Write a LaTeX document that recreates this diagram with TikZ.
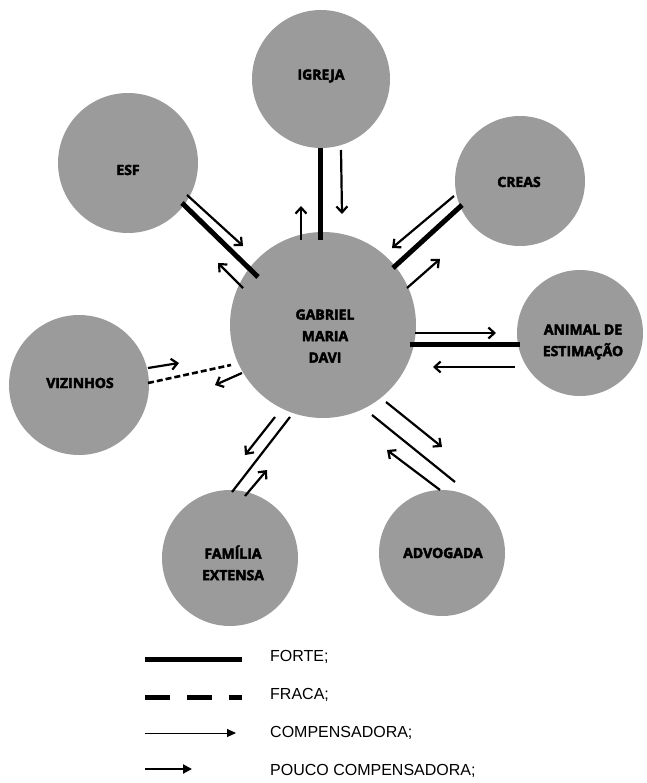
\documentclass[tikz,border=0pt]{standalone}
\usepackage{fontspec}
\setmainfont{Liberation Sans}
\newfontfamily\osb{Open Sans}[BoldFeatures={FakeBold=3}]
\usetikzlibrary{arrows.meta}
\definecolor{circgray}{RGB}{155,155,155}
\tikzset{
  actor/.style={circle, fill=circgray, draw=none, inner sep=0pt},
  lbl/.style={align=center, text=black, font=\osb\bfseries\fontsize{14}{21.5}\selectfont},
  forte/.style={line width=5pt},
  comp/.style={line width=2.2pt, -{Straight Barb[length=6pt,width=11pt,line width=2.2pt]}},
  fraca/.style={line width=2.6pt, dash pattern=on 6pt off 3pt},
  legtext/.style={anchor=west, font=\fontsize{16}{18}\selectfont, inner sep=0pt},
}
\begin{document}
\begin{tikzpicture}[x=1pt,y=-1pt]
\useasboundingbox (0,0) rectangle (646,783);
% circles
\node[actor, minimum size=138pt] (igreja) at (321,79) {};
\node[lbl] (tig) at (321,76) {IGREJA};
\node[actor, minimum size=140pt] (esf) at (128,163) {};
\node[lbl] (tesf) at (128,170) {ESF};
\node[actor, minimum size=130pt] (creas) at (520,181) {};
\node[lbl] (tcr) at (519,182) {CREAS};
\node[actor, minimum size=186pt] (c) at (323,325) {};
\node[lbl] (tc) at (325,336) {GABRIEL\\MARIA\\DAVI};
\node[actor, minimum size=126pt] (animal) at (580,333) {};
\node[lbl] (tan) at (583,342) {ANIMAL DE\\ESTIMAÇÃO};
\node[actor, minimum size=140pt] (viz) at (79,385) {};
\node[lbl] (tvz) at (80,383) {VIZINHOS};
\node[actor, minimum size=136pt] (fam) at (230,558) {};
\node[lbl] (tfm) at (233,563) {FAMÍLIA\\EXTENSA};
\node[actor, minimum size=126pt] (adv) at (442,553) {};
\node[lbl] (tad) at (443,553) {ADVOGADA};

% ESF
\coordinate (esfA) at (182,203); \coordinate (esfB) at (258,277);
\draw[forte] (esfA) -- (esfB);
\coordinate (esf1) at (187,195); \coordinate (esf2) at (243,246);
\draw[comp] (esf1) -- (esf2);
\coordinate (esf3) at (243,288); \coordinate (esf4) at (218,263);
\draw[comp] (esf3) -- (esf4);

% IGREJA
\coordinate (igA) at (320,148); \coordinate (igB) at (320,240);
\draw[forte] (igA) -- (igB);
\coordinate (ig1) at (341,150); \coordinate (ig2) at (342,214);
\draw[comp] (ig1) -- (ig2);
\coordinate (ig3) at (301,240); \coordinate (ig4) at (301,206);
\draw[comp] (ig3) -- (ig4);

% CREAS
\coordinate (crA) at (462,205); \coordinate (crB) at (393,268);
\draw[forte] (crA) -- (crB);
\coordinate (cr1) at (454,196); \coordinate (cr2) at (392,248);
\draw[comp] (cr1) -- (cr2);
\coordinate (cr3) at (407,288); \coordinate (cr4) at (440,259);
\draw[comp] (cr3) -- (cr4);

% ANIMAL
\coordinate (anA) at (410,344); \coordinate (anB) at (520,344);
\draw[forte] (anA) -- (anB);
\coordinate (an1) at (415,333); \coordinate (an2) at (496,333);
\draw[comp] (an1) -- (an2);
\coordinate (an3) at (515,367); \coordinate (an4) at (433,367);
\draw[comp] (an3) -- (an4);

% VIZINHOS
\coordinate (vzA) at (148,383); \coordinate (vzB) at (231,365);
\draw[fraca] (vzA) -- (vzB);
\coordinate (vz1) at (148,368); \coordinate (vz2) at (179,363);
\draw[comp] (vz1) -- (vz2);
\coordinate (vz3) at (242,373); \coordinate (vz4) at (215,385);
\draw[comp] (vz3) -- (vz4);

% FAMILIA
\coordinate (fmA) at (290,417); \coordinate (fmB) at (232,492);
\draw[line width=2.2pt] (fmA) -- (fmB);
\coordinate (fm1) at (275,417); \coordinate (fm2) at (245,455);
\draw[comp] (fm1) -- (fm2);
\coordinate (fm3) at (245,496); \coordinate (fm4) at (267,470);
\draw[comp] (fm3) -- (fm4);

% ADVOGADA
\coordinate (adA) at (372,415); \coordinate (adB) at (455,482);
\draw[line width=2.2pt] (adA) -- (adB);
\coordinate (ad1) at (386,402); \coordinate (ad2) at (442,447);
\draw[comp] (ad1) -- (ad2);
\coordinate (ad3) at (440,490); \coordinate (ad4) at (387,450);
\draw[comp] (ad3) -- (ad4);

% legend
\coordinate (l1a) at (145,659); \coordinate (l1b) at (242,659);
\draw[line width=5pt] (l1a) -- (l1b);
\node[legtext] (t1) at (270,657) {FORTE;};
\coordinate (l2a) at (145,697); \coordinate (l2b) at (242,697);
\draw[line width=5pt, dash pattern=on 25pt off 17pt] (l2a) -- (l2b);
\node[legtext] (t2) at (270,695) {FRACA;};
\coordinate (l3a) at (145,733); \coordinate (l3b) at (236,733);
\draw[line width=1pt, -{Triangle[length=9pt,width=8pt]}] (l3a) -- (l3b);
\node[legtext] (t3) at (270,733) {COMPENSADORA;};
\coordinate (l4a) at (145,769); \coordinate (l4b) at (192,769);
\draw[line width=2pt, -{Triangle[length=9pt,width=9pt]}] (l4a) -- (l4b);
\node[legtext] (t4) at (270,771) {POUCO COMPENSADORA;};
\end{tikzpicture}
\end{document}
